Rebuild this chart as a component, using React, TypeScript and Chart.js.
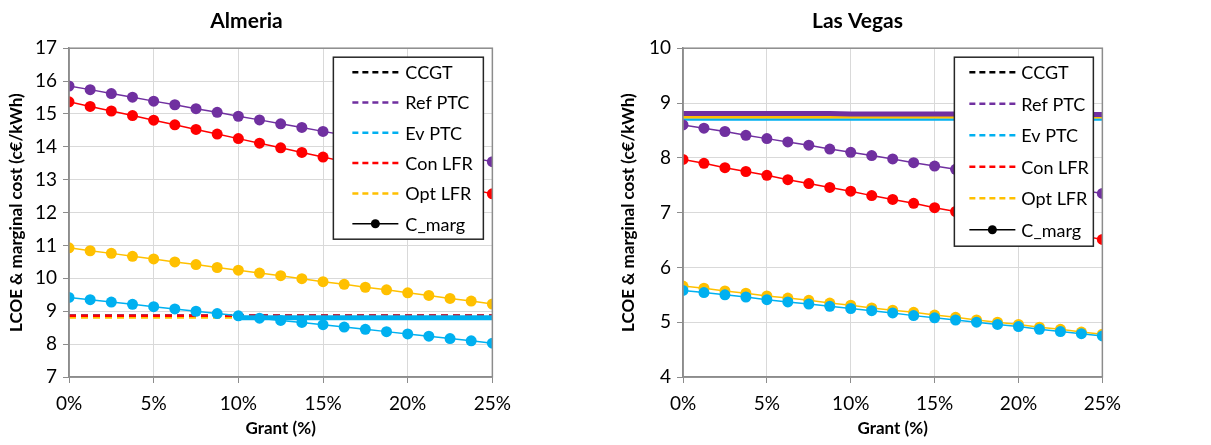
import React, { useEffect, useRef } from "react";
import { Chart, registerables } from "chart.js";

Chart.register(...registerables);

const grantPct = [0, 1.25, 2.5, 3.75, 5, 6.25, 7.5, 8.75, 10, 11.25, 12.5, 13.75, 15, 16.25, 17.5, 18.75, 20, 21.25, 22.5, 23.75, 25];

// Almeria – marginal cost curves
const almRefPTC = [15.85, 15.74, 15.62, 15.51, 15.39, 15.28, 15.16, 15.05, 14.93, 14.82, 14.70, 14.59, 14.47, 14.36, 14.24, 14.13, 14.01, 13.90, 13.78, 13.67, 13.55];
const almConLFR = [15.37, 15.23, 15.09, 14.95, 14.81, 14.67, 14.53, 14.39, 14.25, 14.11, 13.97, 13.83, 13.69, 13.55, 13.41, 13.27, 13.13, 12.99, 12.85, 12.71, 12.57];
const almOptLFR = [10.93, 10.84, 10.76, 10.67, 10.59, 10.50, 10.42, 10.33, 10.25, 10.16, 10.08, 9.99, 9.90, 9.82, 9.73, 9.65, 9.56, 9.48, 9.39, 9.31, 9.22];
const almEvPTC = [9.42, 9.35, 9.28, 9.21, 9.14, 9.07, 9.00, 8.93, 8.86, 8.79, 8.72, 8.66, 8.59, 8.52, 8.45, 8.38, 8.31, 8.24, 8.17, 8.10, 8.03];
// Almeria – CCGT reference lines
const almCcgtBlack = [8.86, 8.86, 8.86, 8.86, 8.86, 8.86, 8.86, 8.86, 8.86, 8.86, 8.86, 8.86, 8.86, 8.86, 8.86, 8.86, 8.86, 8.86, 8.86, 8.86, 8.86];
const almCcgtRef = [8.86, 8.86, 8.86, 8.86, 8.86, 8.86, 8.86, 8.86, 8.86, 8.86, 8.86, 8.86, 8.86, 8.86, 8.86, 8.86, 8.86, 8.86, 8.86, 8.86, 8.86];
const almCcgtCon = [8.86, 8.86, 8.86, 8.86, 8.86, 8.86, 8.86, 8.86, 8.86, 8.86, 8.86, 8.86, 8.86, 8.86, 8.86, 8.86, 8.86, 8.86, 8.86, 8.86, 8.86];
const almCcgtOpt = [8.81, 8.81, 8.81, 8.81, 8.81, 8.81, 8.81, 8.81, 8.81, 8.81, 8.81, 8.81, 8.81, 8.81, 8.81, 8.81, 8.81, 8.81, 8.81, 8.81, 8.81];
const almCcgtEv = [null, null, null, null, null, null, null, null, 8.80, 8.80, 8.80, 8.80, 8.80, 8.80, 8.80, 8.80, 8.80, 8.80, 8.80, 8.80, 8.80];

// Las Vegas – marginal cost curves
const lvRefPTC = [8.60, 8.54, 8.48, 8.41, 8.35, 8.29, 8.23, 8.16, 8.10, 8.04, 7.98, 7.91, 7.85, 7.79, 7.73, 7.66, 7.60, 7.54, 7.48, 7.41, 7.35];
const lvConLFR = [7.97, 7.90, 7.82, 7.75, 7.68, 7.60, 7.53, 7.46, 7.39, 7.31, 7.24, 7.17, 7.09, 7.02, 6.95, 6.88, 6.80, 6.73, 6.66, 6.58, 6.51];
const lvOptLFR = [5.66, 5.62, 5.57, 5.53, 5.48, 5.44, 5.40, 5.35, 5.31, 5.26, 5.22, 5.18, 5.13, 5.09, 5.04, 5.00, 4.96, 4.91, 4.87, 4.82, 4.78];
const lvEvPTC = [5.58, 5.54, 5.50, 5.46, 5.41, 5.37, 5.33, 5.29, 5.25, 5.21, 5.17, 5.12, 5.08, 5.04, 5.00, 4.96, 4.92, 4.87, 4.83, 4.79, 4.75];
// Las Vegas – CCGT reference lines
const lvCcgtBlack = [8.78, 8.78, 8.78, 8.78, 8.78, 8.78, 8.78, 8.78, 8.78, 8.78, 8.78, 8.78, 8.78, 8.78, 8.78, 8.78, 8.78, 8.78, 8.78, 8.78, 8.78];
const lvCcgtRef = [8.81, 8.81, 8.81, 8.81, 8.81, 8.81, 8.81, 8.81, 8.80, 8.80, 8.80, 8.80, 8.80, 8.80, 8.79, 8.79, 8.79, 8.79, 8.79, 8.79, 8.79];
const lvCcgtCon = [8.76, 8.76, 8.76, 8.76, 8.76, 8.76, 8.76, 8.76, 8.76, 8.76, 8.76, 8.76, 8.76, 8.76, 8.76, 8.76, 8.76, 8.76, 8.76, 8.76, 8.76];
const lvCcgtOpt = [8.74, 8.74, 8.74, 8.74, 8.74, 8.74, 8.74, 8.74, 8.74, 8.74, 8.74, 8.74, 8.74, 8.74, 8.74, 8.74, 8.74, 8.74, 8.74, 8.74, 8.74];
const lvCcgtEv = [8.70, 8.70, 8.70, 8.70, 8.70, 8.70, 8.70, 8.70, 8.70, 8.70, 8.70, 8.70, 8.70, 8.70, 8.70, 8.70, 8.70, 8.70, 8.70, 8.70, 8.70];

const legendLabels = ["CCGT", "Ref PTC", "Ev PTC", "Con LFR", "Opt LFR", "C_marg"];

const C_BLACK = "#000000";
const C_PURPLE = "#7030A0";
const C_CYAN = "#00B0F0";
const C_RED = "#FF0000";
const C_YELLOW = "#FFC000";
const legendColors = [C_BLACK, C_PURPLE, C_CYAN, C_RED, C_YELLOW, C_BLACK];

const FONT = "Lato, 'Open Sans', sans-serif";

const pts = (ys: (number | null)[]) => grantPct.map((x, i) => ({ x, y: ys[i] }));

function markerSet(label: string, ys: number[], color: string) {
  return {
    label,
    data: pts(ys),
    borderColor: color,
    backgroundColor: color,
    borderWidth: 1.5,
    pointRadius: 5.5,
    pointBorderWidth: 0,
    pointBackgroundColor: color,
    order: 2,
  };
}

function flatSet(label: string, ys: (number | null)[], color: string, width: number, dash: number[], order: number) {
  return {
    label,
    data: pts(ys),
    borderColor: color,
    backgroundColor: color,
    borderWidth: width,
    borderDash: dash,
    pointRadius: 0,
    spanGaps: false,
    order,
  };
}

type PanelCfg = {
  title: string;
  yMin: number;
  yMax: number;
  yAxisWidth: number;
  legendW: number;
  legendH: number;
  legendRow: number;
  legendLineX0: number;
  legendLineX1: number;
  legendTextX: number;
  legendFont: number;
  datasets: any[];
};

function makeLegendPlugin(cfg: PanelCfg) {
  return {
    id: "boxLegend",
    afterDatasetsDraw(chart: any) {
      const { ctx, chartArea } = chart;
      ctx.save();
      // frame around plot
      ctx.strokeStyle = "#8c8c8c";
      ctx.lineWidth = 1.5;
      ctx.strokeRect(chartArea.left, chartArea.top, chartArea.right - chartArea.left, chartArea.bottom - chartArea.top);
      const right = chartArea.right - 9;
      const left = right - cfg.legendW;
      const top = chartArea.top + 9;
      ctx.fillStyle = "#ffffff";
      ctx.fillRect(left, top, cfg.legendW, cfg.legendH);
      ctx.strokeStyle = "#262626";
      ctx.lineWidth = 1.5;
      ctx.strokeRect(left, top, cfg.legendW, cfg.legendH);
      ctx.font = `${cfg.legendFont}px ${FONT}`;
      ctx.textBaseline = "middle";
      ctx.textAlign = "left";
      legendLabels.forEach((lab, i) => {
        const y = top + 15 + i * cfg.legendRow;
        const x0 = left + cfg.legendLineX0;
        const x1 = left + cfg.legendLineX1;
        ctx.strokeStyle = legendColors[i];
        if (i < 5) {
          ctx.lineWidth = 2.5;
          ctx.setLineDash([6, 4]);
        } else {
          ctx.lineWidth = 1.5;
          ctx.setLineDash([]);
        }
        ctx.beginPath();
        ctx.moveTo(x0, y);
        ctx.lineTo(x1, y);
        ctx.stroke();
        ctx.setLineDash([]);
        if (i === 5) {
          ctx.fillStyle = C_BLACK;
          ctx.beginPath();
          ctx.arc((x0 + x1) / 2, y, 4.5, 0, Math.PI * 2);
          ctx.fill();
        }
        ctx.fillStyle = "#000000";
        ctx.fillText(lab, left + cfg.legendTextX, y + 1);
      });
      ctx.restore();
    },
  };
}

function Panel({ cfg, left, width }: { cfg: PanelCfg; left: number; width: number }) {
  const ref = useRef<HTMLCanvasElement | null>(null);
  useEffect(() => {
    if (!ref.current) return;
    const chart = new Chart(ref.current, {
      type: "line",
      data: { datasets: cfg.datasets },
      options: {
        responsive: false,
        animation: false,
        layout: { padding: { left: 0, right: 27, top: 0, bottom: 0 } },
        plugins: {
          legend: { display: false },
          tooltip: { enabled: false },
          title: {
            display: true,
            text: cfg.title,
            color: "#000",
            font: { family: FONT, size: 21, weight: "bold" },
            padding: { top: 9, bottom: 14 },
          },
        },
        scales: {
          x: {
            type: "linear",
            min: 0,
            max: 25,
            afterFit: (s: any) => {
              s.height = 68;
            },
            ticks: {
              stepSize: 5,
              color: "#000",
              font: { family: FONT, size: 19 },
              padding: 9,
              maxRotation: 0,
              callback: (v: any) => `${v}%`,
            },
            grid: { color: "#d9d9d9", tickColor: "#8c8c8c", tickLength: 6, lineWidth: 1 },
            border: { color: "#8c8c8c", width: 1.5 },
            title: {
              display: true,
              text: "Grant (%)",
              color: "#000",
              font: { family: FONT, size: 17, weight: "bold" },
              padding: { top: 0, bottom: 6 },
            },
          },
          y: {
            min: cfg.yMin,
            max: cfg.yMax,
            afterFit: (s: any) => {
              s.width = cfg.yAxisWidth;
            },
            ticks: {
              stepSize: 1,
              color: "#000",
              font: { family: FONT, size: 19 },
              padding: 6,
            },
            grid: { color: "#d9d9d9", tickColor: "#8c8c8c", tickLength: 6, lineWidth: 1 },
            border: { color: "#8c8c8c", width: 1.5 },
            title: {
              display: true,
              text: "LCOE & marginal cost (c€/kWh)",
              color: "#000",
              font: { family: FONT, size: 17, weight: "bold" },
              padding: { top: 6, bottom: 0 },
            },
          },
        },
      },
      plugins: [makeLegendPlugin(cfg)],
    } as any);
    return () => chart.destroy();
  }, [cfg]);
  return (
    <canvas
      ref={ref}
      width={width}
      height={445}
      style={{ position: "absolute", left, top: 0, width, height: 445 }}
    />
  );
}

const almeriaCfg: PanelCfg = {
  title: "Almeria",
  yMin: 7,
  yMax: 17,
  yAxisWidth: 69,
  legendW: 150,
  legendH: 182,
  legendRow: 30.3,
  legendLineX0: 19,
  legendLineX1: 65,
  legendTextX: 72,
  legendFont: 18,
  datasets: [
    flatSet("CCGT", almCcgtBlack, C_BLACK, 2.5, [7, 5], 5),
    flatSet("Ref PTC CCGT", almCcgtRef, C_PURPLE, 2.5, [7, 5], 4),
    flatSet("Con LFR CCGT", almCcgtCon, C_RED, 2.5, [7, 5], 3),
    flatSet("Opt LFR CCGT", almCcgtOpt, C_YELLOW, 2.5, [7, 5], 3),
    markerSet("Ref PTC", almRefPTC, C_PURPLE),
    markerSet("Con LFR", almConLFR, C_RED),
    markerSet("Opt LFR", almOptLFR, C_YELLOW),
    markerSet("Ev PTC", almEvPTC, C_CYAN),
    flatSet("Ev PTC CCGT", almCcgtEv, C_CYAN, 5, [], 1),
  ],
};

const lasVegasCfg: PanelCfg = {
  title: "Las Vegas",
  yMin: 4,
  yMax: 10,
  yAxisWidth: 71,
  legendW: 139,
  legendH: 189,
  legendRow: 31.5,
  legendLineX0: 15,
  legendLineX1: 61,
  legendTextX: 67,
  legendFont: 18,
  datasets: [
    flatSet("CCGT", lvCcgtBlack, C_BLACK, 2.5, [], 5),
    flatSet("Ev PTC CCGT", lvCcgtEv, C_CYAN, 2.5, [], 4),
    flatSet("Opt LFR CCGT", lvCcgtOpt, C_YELLOW, 2.5, [], 3),
    flatSet("Con LFR CCGT", lvCcgtCon, C_RED, 2.5, [], 3),
    flatSet("Ref PTC CCGT", lvCcgtRef, C_PURPLE, 5, [], 2.5),
    markerSet("Ref PTC", lvRefPTC, C_PURPLE),
    markerSet("Con LFR", lvConLFR, C_RED),
    markerSet("Ev PTC", lvEvPTC, C_CYAN),
    markerSet("Opt LFR", lvOptLFR, C_YELLOW),
  ],
};

export default function App() {
  return (
    <div style={{ position: "absolute", left: 0, top: 0, width: 1211, height: 445, background: "#fff" }}>
      <Panel cfg={almeriaCfg} left={0} width={520} />
      <Panel cfg={lasVegasCfg} left={612} width={518} />
    </div>
  );
}
